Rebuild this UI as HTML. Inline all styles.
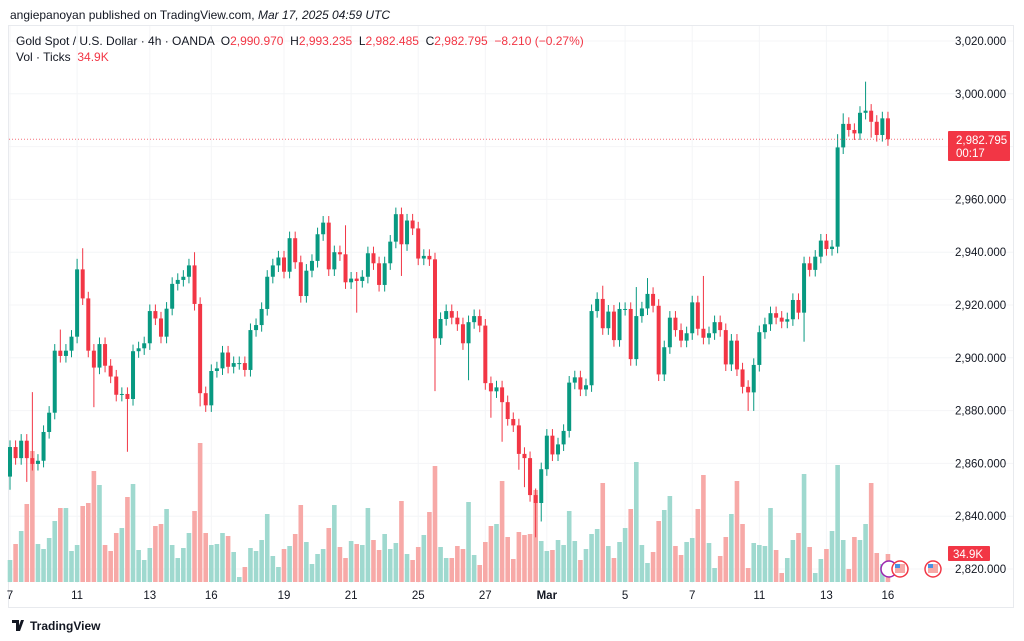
<!DOCTYPE html>
<html><head><meta charset="utf-8"><style>
html,body{margin:0;padding:0;background:#fff;}
svg{display:block;font-family:"Liberation Sans",sans-serif;}
</style></head><body>
<svg id="chart" width="1024" height="641" viewBox="0 0 1024 641" xmlns="http://www.w3.org/2000/svg">
<rect x="0" y="0" width="1024" height="641" fill="#fff"/>
<text x="10" y="19" font-size="12" fill="#131722">angiepanoyan published on TradingView.com, <tspan font-style="italic">Mar 17, 2025 04:59 UTC</tspan></text>
<rect x="8.5" y="25.5" width="1005" height="582" fill="none" stroke="#e8eaee"/>
<g id="grid"></g>
<g id="vol"></g>
<g id="candles"></g>
<line id="lastline" x1="9" x2="945" stroke="#f23645" stroke-width="1" stroke-dasharray="1,2" opacity="0.7"/>
<g id="yaxis"></g>
<g id="xaxis"></g>
<text x="16" y="45" font-size="12" fill="#131722" xml:space="preserve">Gold Spot / U.S. Dollar · 4h · OANDA  O<tspan fill="#f23645">2,990.970</tspan>  H<tspan fill="#f23645">2,993.235</tspan>  L<tspan fill="#f23645">2,982.485</tspan>  C<tspan fill="#f23645">2,982.795  −8.210 (−0.27%)</tspan></text>
<text x="16" y="61" font-size="12" fill="#131722" xml:space="preserve">Vol · Ticks  <tspan fill="#f23645">34.9K</tspan></text>
<g>
<rect x="948" y="131" width="62" height="30" fill="#f23645" rx="1"/>
<text x="956" y="144" font-size="11.5" fill="#fff">2,982.795</text>
<text x="956" y="157" font-size="11.5" fill="#fff">00:17</text>
</g>
<g>
<rect x="948" y="546" width="42" height="15" fill="#f23645" rx="1"/>
<text x="953" y="558" font-size="11.5" fill="#fff">34.9K</text>
</g>
<g><circle cx="889" cy="569" r="8" fill="#fff" stroke="#9c27b0" stroke-width="1.5"/></g>
<g><circle cx="900" cy="569" r="8" fill="#fff" stroke="#f23645" stroke-width="1.5"/><rect x="895" y="564" width="10" height="9" fill="#f7a9a7"/><rect x="895" y="564" width="5" height="4" fill="#4a90e2"/></g>
<g><circle cx="933" cy="569" r="8" fill="#fff" stroke="#f23645" stroke-width="1.5"/><rect x="928" y="564" width="10" height="9" fill="#f7a9a7"/><rect x="928" y="564" width="5" height="4" fill="#4a90e2"/></g>
<g>
<path d="M12 620 h7 v11 h-3 v-8 h-4 z M21 620 h3 l-4 11 h-3 z" fill="#131722"/>
<text x="30" y="630" font-size="12" font-weight="bold" fill="#131722">TradingView</text>
</g>
</svg>
<script>
const closes=[2866.2,2862,2868.6,2862,2859.8,2861,2871.9,2879.2,2902.7,2900.7,2902.7,2908,2933.5,2922.5,2902.7,2896.3,2905.2,2897,2892.9,2886,2886.3,2884.4,2902.5,2903.6,2905.5,2917.7,2914.9,2908,2918.6,2928,2929.5,2930.7,2935,2920.4,2886.6,2882,2895,2896,2902,2896.6,2898,2898,2895.4,2910.5,2912.4,2918.5,2930.7,2935,2938,2932.6,2945.3,2936.2,2923.4,2933,2936.7,2946.8,2951.2,2933.5,2940,2939.2,2928.6,2930,2929.1,2930.7,2939.6,2935.8,2927.6,2935.8,2944,2954.4,2943,2952,2949,2937.6,2938.6,2937.3,2907.4,2914.7,2917.7,2915.2,2912.7,2905.5,2913.5,2915.8,2912.2,2890.4,2887.3,2888.8,2883.2,2876.8,2874.4,2863.6,2862,2848,2845,2857.8,2870.5,2863.4,2867.2,2872.3,2890.6,2892.6,2888,2889.6,2917.7,2922.3,2911.2,2917.5,2906.7,2918.5,2918.5,2899.5,2915.8,2918.7,2924.2,2919.7,2893.7,2904,2915.2,2910.5,2906.5,2909.3,2921,2911,2907.6,2909.3,2913.5,2910.5,2897.5,2906.5,2895.6,2889,2886.9,2897.3,2909.7,2912.7,2916.9,2915.2,2913.7,2914.6,2921.9,2917.1,2935.8,2933.3,2938.3,2944.4,2941.2,2942.1,2979.7,2988.6,2986.3,2985,2992.8,2993.6,2989.4,2984.4,2990.7,2982.8];
const firstOpen=2855;
const volumes=[22,38,51,78,131,38,33,44,61,74,74,31,37,76,79,111,97,37,31,49,54,85,98,32,22,34,56,58,73,37,24,34,49,71,139,49,37,38,49,46,30,5,15,34,31,42,68,26,15,33,36,48,77,40,18,28,33,54,77,35,24,41,38,37,74,42,32,48,33,39,81,28,22,35,47,70,116,35,24,24,36,33,80,27,17,40,56,58,101,45,23,50,47,48,92,41,31,32,42,37,71,41,22,33,48,53,99,36,24,40,54,73,120,37,19,30,61,72,86,36,27,40,44,73,107,39,14,26,45,68,101,58,14,39,37,36,74,32,9,24,42,49,108,35,9,23,33,51,117,42,13,45,42,58,99,29,18,28];
const wickUpNotable={5:25,10:8,13:4,14:8,34:5,61:11,107:5,113:11,115:6,125:20,149:5,150:4,154:11};
const wickDownNotable={1:5,4:9,16:15,22:20,35:5,63:12,71:12,77:20,83:14,87:10,89:15,92:6,93:11,95:13,96:7,133:7,134:7,143:11,155:6};
const defaultWick=2.5;
const priceTicks=[2820,2840,2860,2880,2900,2920,2940,2960,2980,3000,3020];
const dateLabels=["7","11","13","16","19","21","25","27","Mar","5","7","11","13","16"];
const dateIdx=[0,12,25,36,49,61,73,85,96,110,122,134,146,157];
const lastPrice=2982.795;

const NS="http://www.w3.org/2000/svg";
const X0=10,DX=5.592,BW=4;
const xs=i=>X0+i*DX;
const ys=v=>41+(3020-v)*2.64;
const VBASE=582,VK=1.0;
function mk(tag,attrs,parent){const e=document.createElementNS(NS,tag);for(const k in attrs)e.setAttribute(k,attrs[k]);parent.appendChild(e);return e;}
const grid=document.getElementById('grid'),vol=document.getElementById('vol'),cg=document.getElementById('candles'),ya=document.getElementById('yaxis'),xa=document.getElementById('xaxis');
priceTicks.forEach(p=>{
  const gl=mk('line',{x1:9,x2:1013,y1:ys(p),y2:ys(p),stroke:'#f4f5f7'},grid);
  
  
  const t=mk('text',{x:955,y:ys(p)+4,'font-size':11.5,fill:'#131722'},ya);
  t.textContent=p.toLocaleString('en-US',{minimumFractionDigits:3});
  
  
});
dateLabels.forEach((d,k)=>{
  const x=xs(dateIdx[k]);
  const gl=mk('line',{x1:x,x2:x,y1:26,y2:583,stroke:'#f4f5f7'},grid);
  
  
  const t=mk('text',{x:x,y:599,'font-size':11.5,fill:'#131722','text-anchor':'middle','font-weight':d==='Mar'?'bold':'normal'},xa);
  t.textContent=d;
  
  
});
let prev=firstOpen;
closes.forEach((c,i)=>{
  const o=prev; prev=c;
  const up=c>=o;
  const col=up?'#089981':'#f23645';
  const n=i+1;
  const hi=Math.max(o,c)+(wickUpNotable[n]!==undefined?wickUpNotable[n]:defaultWick);
  const lo=Math.min(o,c)-(wickDownNotable[n]!==undefined?wickDownNotable[n]:defaultWick);
  const x=xs(i);
  const v=volumes[i];
  const vb=mk('rect',{x:x-BW/2-0.3,y:VBASE-v*VK,width:BW+0.6,height:v*VK,fill:up?'#9fd9cf':'#f7a9a7'},vol);
  
  
  const w=mk('line',{x1:x,x2:x,y1:ys(hi),y2:ys(lo),stroke:col,'stroke-width':1},cg);
  
  
  const top=ys(Math.max(o,c)),bot=ys(Math.min(o,c));
  const b=mk('rect',{x:x-BW/2,y:top,width:BW,height:Math.max(1,bot-top),fill:col},cg);
  
  
});
const ll=document.getElementById('lastline');
ll.setAttribute('y1',ys(lastPrice));ll.setAttribute('y2',ys(lastPrice));
</script>
</body></html>
